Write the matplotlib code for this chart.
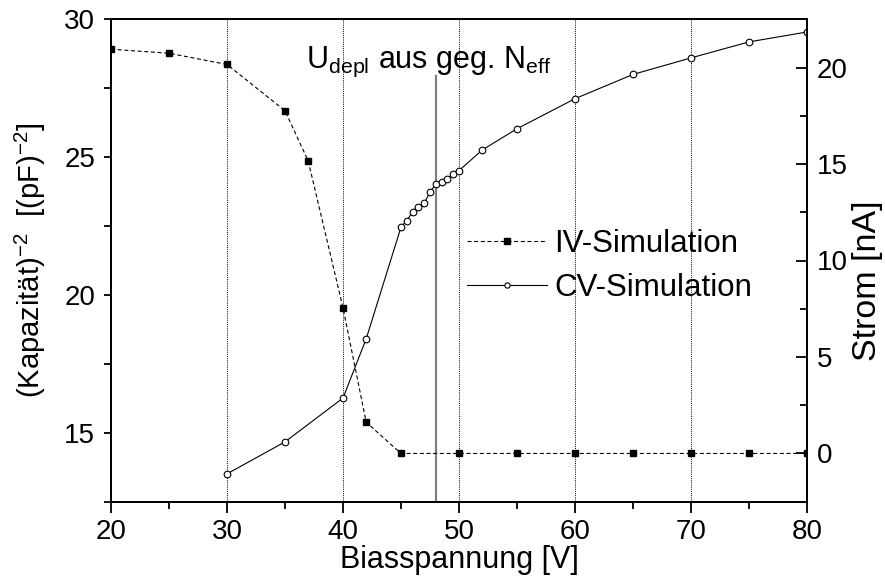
import numpy as np
import matplotlib
matplotlib.use("Agg")
import matplotlib.pyplot as plt
from matplotlib.ticker import MultipleLocator

plt.rcParams["font.family"] = ["Liberation Sans", "DejaVu Sans"]
plt.rcParams["mathtext.fontset"] = "custom"
plt.rcParams["mathtext.rm"] = "Liberation Sans"
plt.rcParams["mathtext.it"] = "Liberation Sans:italic"
plt.rcParams["mathtext.bf"] = "Liberation Sans:bold"

# IV-Simulation (Strom, rechte Achse)
spannung_iv = [20, 25, 30, 35, 37, 40, 42, 45, 50, 55, 60, 65, 70, 75, 80]
strom_iv = [20.95, 20.74, 20.16, 17.76, 15.16, 7.55, 1.62, 0, 0, 0, 0, 0, 0, 0, 0]

# CV-Simulation (1/C^2, linke Achse)
spannung_cv = [30, 35, 40, 42, 45, 45.5, 46, 46.5, 47, 47.5, 48, 48.5, 49, 49.5,
               50, 52, 55, 60, 65, 70, 75, 80]
kap_cv = [13.51, 14.67, 16.26, 18.41, 22.46, 22.70, 23.01, 23.18, 23.33, 23.73,
          24.02, 24.09, 24.20, 24.39, 24.51, 25.26, 26.03, 27.12, 28.0, 28.6,
          29.18, 29.54]

u_depl = 48
grid_x = [30, 40, 50, 60, 70]

fig = plt.figure(figsize=(8.85, 5.78), dpi=100)
ax = fig.add_axes([111 / 885, 1 - 501.7 / 578, 696 / 885, 482.4 / 578])
ax2 = ax.twinx()

# Hilfslinien
for gx in grid_x:
    ax.axvline(gx, color="black", lw=0.7, ls=(0, (1, 1.2)), zorder=1)
ax.plot([u_depl, u_depl], [12.5, 27.95], color="#808080", lw=1.6, zorder=1)

l_cv, = ax.plot(spannung_cv, kap_cv, "-", color="black", lw=0.8,
                marker="o", ms=4.8, mfc="white", mec="black", mew=0.8,
                label="CV-Simulation", zorder=3)
l_iv, = ax2.plot(spannung_iv, strom_iv, color="black", lw=0.8, ls=(0, (3.6, 2.4)),
                 marker="s", ms=5, mfc="black", mec="black",
                 label="IV-Simulation", zorder=3)

ax.text(36.8, 28.23, r"$\mathregular{U_{depl}}$ aus geg. $\mathregular{N_{eff}}$",
        fontsize=22, ha="left", va="baseline")

ax.set_xlim(20, 80)
ax.set_ylim(12.5, 30)
ax2.set_ylim(-2.5, 22.5)

ax.xaxis.set_major_locator(MultipleLocator(10))
ax.xaxis.set_minor_locator(MultipleLocator(5))
ax.yaxis.set_major_locator(MultipleLocator(5))
ax.yaxis.set_minor_locator(MultipleLocator(2.5))
ax2.yaxis.set_major_locator(MultipleLocator(5))
ax2.yaxis.set_minor_locator(MultipleLocator(2.5))
ax2.xaxis.set_major_locator(MultipleLocator(10))
ax2.xaxis.set_minor_locator(MultipleLocator(5))

ax.tick_params(axis="x", which="major", direction="out", length=8, width=1.3,
               labelsize=20, pad=4.5, top=False)
ax.tick_params(axis="x", which="minor", direction="out", length=5, width=1.3, top=False)
ax.tick_params(axis="y", which="major", direction="out", length=5, width=1.3,
               labelsize=20, pad=6.5)
ax.tick_params(axis="y", which="minor", direction="out", length=5, width=1.3)
ax2.tick_params(axis="y", which="major", direction="in", length=8, width=1.3,
                labelsize=20, pad=7)
ax2.tick_params(axis="y", which="minor", direction="in", length=5, width=1.3)
ax2.tick_params(axis="x", which="both", direction="in", length=5, width=1.3,
                top=True, bottom=False, labeltop=False, labelbottom=False)

for a in (ax, ax2):
    for s in a.spines.values():
        s.set_linewidth(1.4)

ax.set_xlabel("Biasspannung [V]", fontsize=22)
ax.xaxis.set_label_coords(0.5, -0.0898)
ax.set_ylabel(r"(Kapazität)$^{\mathregular{-2}}$  [(pF)$^{\mathregular{-2}}$]", fontsize=21)
ax.yaxis.set_label_coords(-0.0905, 0.5)
ax2.set_ylabel("Strom [nA]", fontsize=24.5)
ax2.yaxis.set_label_coords(1.064, 0.4575)

leg = ax2.legend([l_iv, l_cv], ["IV-Simulation", "CV-Simulation"],
                 loc="center left", bbox_to_anchor=(466.7 / 885, 1 - 266 / 578),
                 bbox_transform=fig.transFigure, frameon=False, fontsize=22.5,
                 handlelength=2.58, handletextpad=0.22, labelspacing=0.45,
                 borderpad=0, borderaxespad=0, markerscale=0.8)

fig.savefig("out.png", dpi=100)
